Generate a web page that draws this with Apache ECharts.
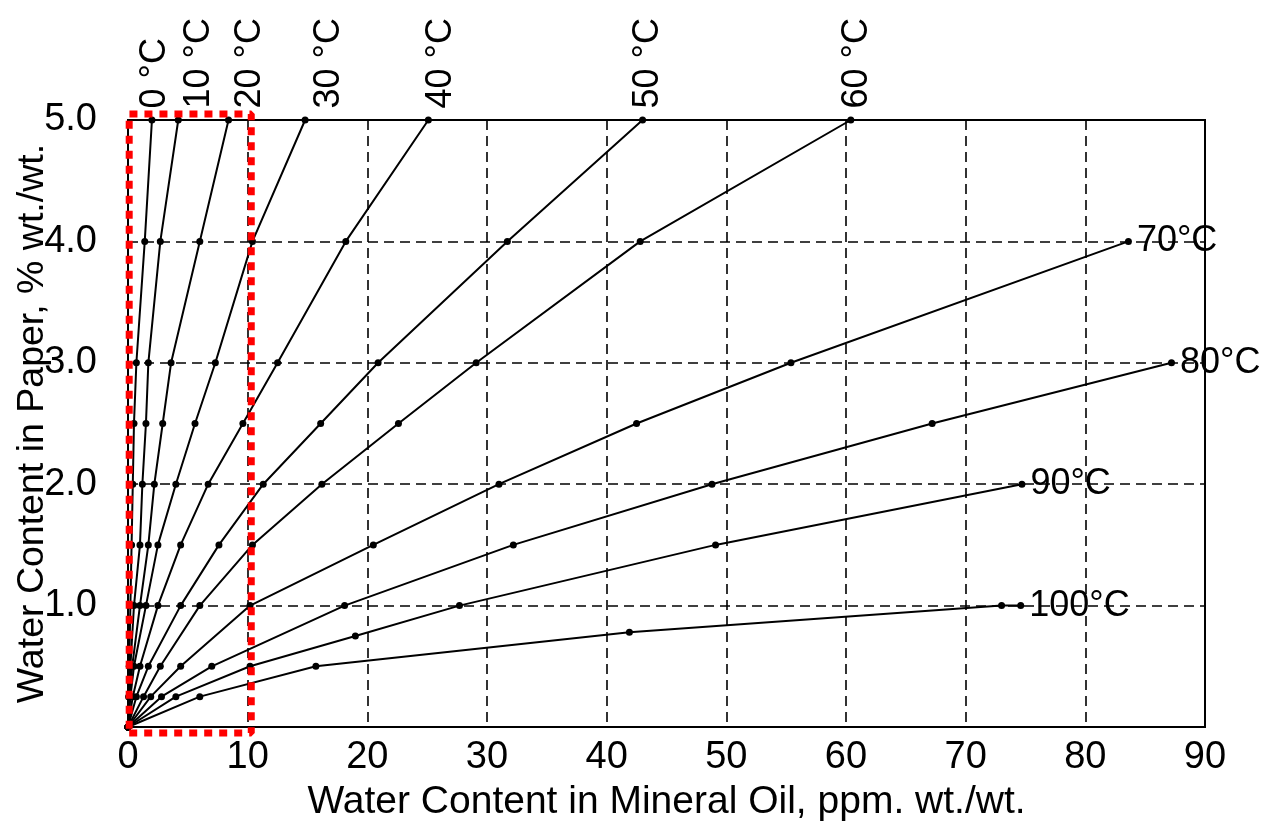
<!DOCTYPE html>
<html>
<head>
<meta charset="utf-8">
<script src="https://cdn.jsdelivr.net/npm/echarts@6/dist/echarts.min.js"></script>
<style>
html,body{margin:0;padding:0;background:#fff;}
#chart{width:1266px;height:829px;}
</style>
</head>
<body>
<div id="chart"></div>
<script>
// ---- Data (x = water in oil, ppm; y = water in paper, % wt.) ----
const xTicks = [0, 10, 20, 30, 40, 50, 60, 70, 80, 90];
const yTicks = [1.0, 2.0, 3.0, 4.0, 5.0];

const temps = ['0 °C', '10 °C', '20 °C', '30 °C', '40 °C', '50 °C', '60 °C', '70°C', '80°C', '90°C', '100°C'];
const topLabelled = ['0 °C', '10 °C', '20 °C', '30 °C', '40 °C', '50 °C', '60 °C'];

const c0   = [[0,0],[0.05,0.25],[0.1,0.5],[0.2,1],[0.3,1.5],[0.4,2],[0.5,2.5],[0.7,3],[1.4,4],[2.0,5]];
const c10  = [[0,0],[0.1,0.25],[0.2,0.5],[0.5,1],[1.0,1.5],[1.2,2],[1.5,2.5],[1.7,3],[2.7,4],[4.2,5]];
const c20  = [[0,0],[0.15,0.25],[0.35,0.5],[1.0,1],[1.7,1.5],[2.2,2],[2.9,2.5],[3.6,3],[6.0,4],[8.4,5]];
const c30  = [[0,0],[0.2,0.25],[0.5,0.5],[1.5,1],[2.5,1.5],[4.0,2],[5.6,2.5],[7.3,3],[10.4,4],[14.8,5]];
const c40  = [[0,0],[0.4,0.25],[1.0,0.5],[2.5,1],[4.4,1.5],[6.7,2],[9.6,2.5],[12.5,3],[18.2,4],[25.1,5]];
const c50  = [[0,0],[0.7,0.25],[1.7,0.5],[4.4,1],[7.6,1.5],[11.3,2],[16.1,2.5],[20.9,3],[31.7,4],[43.0,5]];
const c60  = [[0,0],[1.3,0.25],[2.7,0.5],[6.0,1],[10.4,1.5],[16.2,2],[22.6,2.5],[29.1,3],[42.8,4],[60.4,5]];
const c70  = [[0,0],[1.9,0.25],[4.4,0.5],[10.2,1],[20.5,1.5],[31.0,2],[42.5,2.5],[55.4,3],[83.6,4]];
const c80  = [[0,0],[2.8,0.25],[7.0,0.5],[18.1,1],[32.2,1.5],[48.8,2],[67.2,2.5],[87.2,3]];
const c90  = [[0,0],[4.0,0.25],[10.2,0.5],[19.0,0.75],[27.7,1],[49.1,1.5],[74.7,2]];
const c100 = [[0,0],[6.0,0.25],[15.7,0.5],[41.9,0.78],[73.0,1.0],[74.6,1.0]];

const curves = [c0, c10, c20, c30, c40, c50, c60, c70, c80, c90, c100];

// highlighted region (red dotted box), in data units
const boxX = [0.1, 10.3];
const boxY = [-0.05, 5.05];

// ---- Styles ----
const FONT = "'Liberation Sans', Arial, Helvetica, sans-serif";
const TICK_SIZE = 38;
const XTITLE_SIZE = 39;
const YTITLE_SIZE = 37.5;
const TEMP_SIZE = 36;
const SYM = 7;
// horizontal nudge (px) of the rotated labels above the 5.0 line, per curve
const topLabelNudge = [3, 21, 22, 24, 13, 6, 6];

const series = curves.map((pts, i) => {
  const name = temps[i];
  const isTop = topLabelled.includes(name);
  const data = pts.map((p, j) => {
    if (j !== pts.length - 1) return p;
    return {
      value: p,
      label: isTop ? {
        show: true,
        formatter: name,
        rotate: 90,
        position: [SYM / 2 + topLabelNudge[i], -8],
        align: 'left',
        verticalAlign: 'middle',
        fontSize: TEMP_SIZE,
        fontFamily: FONT,
        color: '#000'
      } : {
        show: true,
        formatter: name,
        position: 'right',
        distance: 5,
        fontSize: TEMP_SIZE,
        fontFamily: FONT,
        color: '#000'
      }
    };
  });
  return {
    name: name,
    type: 'line',
    data: data,
    smooth: false,
    symbol: 'circle',
    symbolSize: SYM,
    showSymbol: true,
    itemStyle: { color: '#000' },
    lineStyle: { color: '#000', width: 2 },
    z: 3,
    animation: false,
    clip: false
  };
});

series.push({
  name: 'box',
  type: 'line',
  data: [[boxX[0], boxY[0]], [boxX[1], boxY[0]], [boxX[1], boxY[1]], [boxX[0], boxY[1]], [boxX[0], boxY[0]]],
  symbol: 'none',
  lineStyle: { color: '#ff0000', width: 7, type: [8, 7] },
  z: 5,
  clip: false,
  animation: false
});

const chart = echarts.init(document.getElementById('chart'), null, { renderer: 'canvas' });
chart.setOption({
  backgroundColor: '#fff',
  animation: false,
  grid: {
    left: 128, right: 61, top: 120, bottom: 102,
    outerBoundsMode: 'none', containLabel: false,
    show: true, borderColor: '#000', borderWidth: 2
  },
  xAxis: {
    type: 'value', min: 0, max: 90, interval: 10,
    name: 'Water Content in Mineral Oil, ppm. wt./wt.',
    nameLocation: 'middle', nameGap: 56, nameMoveOverlap: false,
    nameTextStyle: { fontSize: XTITLE_SIZE, fontFamily: FONT, color: '#000' },
    axisLine: { show: true, lineStyle: { color: '#000', width: 2 } },
    axisTick: { show: false },
    axisLabel: {
      fontSize: TICK_SIZE, fontFamily: FONT, color: '#000', margin: 12,
      formatter: v => xTicks.includes(v) ? String(v) : ''
    },
    splitLine: { show: true, lineStyle: { color: '#000', width: 1.6, type: [10, 6] } }
  },
  yAxis: {
    type: 'value', min: 0, max: 5, interval: 1,
    name: 'Water Content in Paper, % wt./wt.',
    nameLocation: 'middle', nameGap: 76, nameMoveOverlap: false,
    nameTextStyle: { fontSize: YTITLE_SIZE, fontFamily: FONT, color: '#000' },
    axisLine: { show: true, lineStyle: { color: '#000', width: 2 } },
    axisTick: { show: false },
    axisLabel: {
      fontSize: TICK_SIZE, fontFamily: FONT, color: '#000', margin: 31,
      formatter: v => yTicks.includes(v) ? v.toFixed(1) : ''
    },
    splitLine: { show: true, lineStyle: { color: '#000', width: 1.6, type: [10, 6] } }
  },
  series: series
});
</script>
</body>
</html>
